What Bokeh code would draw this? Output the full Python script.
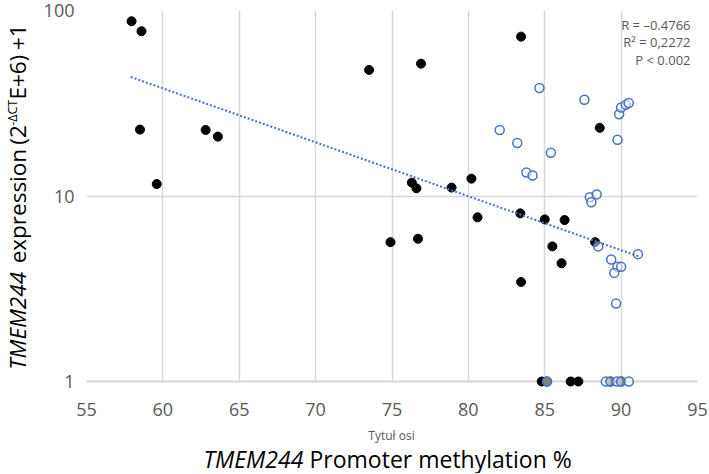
import math
from bokeh.plotting import figure
from bokeh.layouts import row, column
from bokeh.models import (Label, FixedTicker, CustomJSTickFormatter, BoxAnnotation,
                          Span, Range1d)
from bokeh.embed import file_html
from bokeh.resources import INLINE

# ---- data ----
# filled black points
black_x = [57.95, 58.6, 58.5, 59.6, 62.8, 63.6, 73.5, 76.9, 83.45, 88.6,
           76.3, 76.6, 78.9, 80.2, 80.6, 83.4, 85.0, 86.3, 74.9, 76.7,
           88.3, 85.5, 86.1, 83.45, 84.8, 85.15, 86.7, 87.2, 89.3, 90.0]
black_y = [87.5, 77.3, 22.8, 11.6, 22.7, 20.9, 47.8, 51.7, 72.3, 23.3,
           11.8, 11.0, 11.1, 12.4, 7.67, 8.06, 7.48, 7.42, 5.64, 5.88,
           5.64, 5.35, 4.34, 3.44, 1, 1, 1, 1, 1, 1]
# open blue points
open_x = [84.65, 87.6, 89.87, 90.0, 90.3, 90.5, 82.05, 83.2, 89.76, 85.4,
          83.8, 84.2, 87.95, 88.4, 88.05, 88.5, 91.1, 89.35, 89.76, 90.0,
          89.55, 89.67, 85.15, 89.0, 89.3, 89.73, 90.0, 90.5]
open_y = [38.2, 33.0, 27.6, 30.0, 31.0, 31.7, 22.7, 19.3, 20.1, 17.1,
          13.4, 12.9, 9.84, 10.2, 9.25, 5.35, 4.86, 4.55, 4.15, 4.15,
          3.85, 2.63, 1, 1, 1, 1, 1, 1]
# exponential trend line end points
trend_x = [57.9, 91.1]
trend_y = [43.8, 4.74]
x_ticks = [55, 60, 65, 70, 75, 80, 85, 90, 95]
y_ticks = [1, 10, 100]
stats_lines = ["R = \u20130.4766", "R\u00b2 = 0,2272", "P < 0.002"]

FONT = "Open Sans"
GREY_TXT = "#595959"
GRID = "#d9d9d9"
BLUE = "#4472c4"

LEFT_W = 34
MAIN_W = 674
MAIN_H = 424
BOT_H = 49

# ---------------- main plot ----------------
p = figure(width=MAIN_W, height=MAIN_H, output_backend="svg", toolbar_location=None,
           y_axis_type="log",
           x_range=Range1d(55, 95), y_range=Range1d(10 ** (-6 / 185.5), 100),
           min_border_left=52, min_border_right=11, min_border_top=10,
           min_border_bottom=37)
p.outline_line_color = None

p.xaxis.ticker = FixedTicker(ticks=x_ticks)
p.yaxis.ticker = FixedTicker(ticks=y_ticks)
p.yaxis.formatter = CustomJSTickFormatter(code="return tick.toFixed(0)")
for ax in (p.xaxis, p.yaxis):
    ax.axis_line_color = None
    ax.major_tick_line_color = None
    ax.minor_tick_line_color = None
    ax.major_tick_out = 0
    ax.major_tick_in = 0
    ax.minor_tick_out = 0
    ax.minor_tick_in = 0
    ax.major_label_text_font = FONT
    ax.major_label_text_font_size = "18px"
    ax.major_label_text_color = GREY_TXT
p.xaxis.major_label_standoff = 15
p.yaxis.major_label_standoff = 12

p.xgrid.ticker = FixedTicker(ticks=x_ticks)
p.ygrid.ticker = FixedTicker(ticks=y_ticks)
p.xgrid.grid_line_color = GRID
p.ygrid.grid_line_color = GRID
p.xgrid.grid_line_width = 1.5
p.ygrid.grid_line_width = 1.5

# hide grid stubs below y=1 and draw the baseline
p.add_layout(BoxAnnotation(top=1, fill_color="white", fill_alpha=1,
                           line_alpha=0, level="underlay"))
p.add_layout(Span(location=1, dimension="width", line_color=GRID,
                  line_width=2, level="underlay"))

p.scatter(black_x, black_y, size=9, marker="circle", fill_color="black",
          line_color="black")
p.scatter(open_x, open_y, size=9, marker="circle", fill_color="white",
          fill_alpha=0.5, line_color=BLUE, line_width=1.5)
p.line(trend_x, trend_y, line_color=BLUE, line_width=2, line_dash="2 2")

for i, t in enumerate(stats_lines):
    p.add_layout(Label(x=604, y=363 - 17.5 * i, x_units="screen", y_units="screen",
                       text=t, text_align="right", text_baseline="middle",
                       text_font=FONT, text_font_size="13px", text_color=GREY_TXT))


def blank(w, h, xr, yr):
    f = figure(width=w, height=h, output_backend="svg", toolbar_location=None,
               x_range=Range1d(*xr), y_range=Range1d(*yr),
               x_axis_location=None, y_axis_location=None,
               min_border=0, min_border_left=0, min_border_right=0,
               min_border_top=0, min_border_bottom=0)
    f.outline_line_color = None
    f.xgrid.visible = False
    f.ygrid.visible = False
    return f


# ---------------- left title strip (data y == page y) ----------------
left = blank(LEFT_W, MAIN_H, (0, LEFT_W), (MAIN_H, 0))
ang = math.pi / 2
# (text, centre position along the strip, size, style, x centre)
ylab_parts = [
    ("TMEM244", 349, 22.5, "italic", 17),
    ("expression", 220, 22.5, "normal", 17),
    ("(2", 140, 22.5, "normal", 17),
    ("-\u0394CT", 115, 12.5, "normal", 12),
    ("E+6)", 75, 22.5, "normal", 17),
    ("+1", 30, 22.5, "normal", 17),
]
for txt, yy, fs, st, xx in ylab_parts:
    left.add_layout(Label(x=xx, y=yy, angle=ang, text=txt, text_align="center",
                          text_baseline="middle", text_font=FONT,
                          text_font_size=f"{fs}px", text_font_style=st,
                          text_color="black"))

# ---------------- bottom title strip (data y == page y) ----------------
W_ALL = LEFT_W + MAIN_W
bottom = blank(W_ALL, BOT_H, (0, W_ALL), (MAIN_H + BOT_H, MAIN_H))
bottom.add_layout(Label(x=391, y=435, text="Tytu\u0142 osi", text_align="center",
                        text_baseline="middle", text_font=FONT,
                        text_font_size="12px", text_color=GREY_TXT))
bottom.add_layout(Label(x=203, y=458, text="TMEM244", text_align="left",
                        text_baseline="middle", text_font=FONT,
                        text_font_style="italic", text_font_size="23px",
                        text_color="black"))
bottom.add_layout(Label(x=309, y=458, text="Promoter methylation %",
                        text_align="left", text_baseline="middle", text_font=FONT,
                        text_font_size="23px", text_color="black"))

layout = column(row(left, p), bottom)
open("out.html", "w").write(file_html(layout, INLINE))
